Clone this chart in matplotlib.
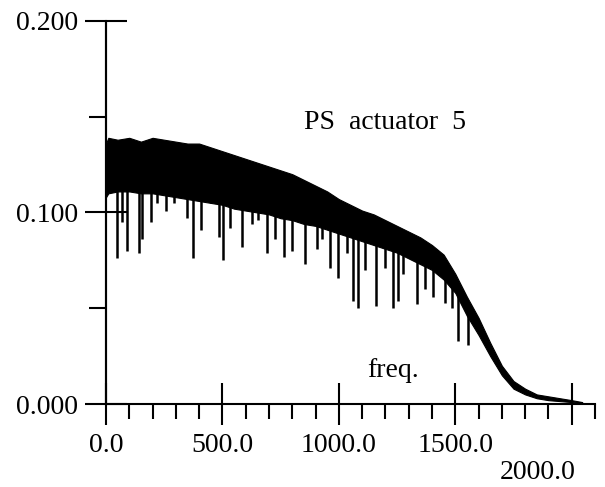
import matplotlib.pyplot as plt
from matplotlib.ticker import MultipleLocator, FixedLocator
import matplotlib.transforms as mtransforms

# frecuencias del borde de la banda densa y sus valores
freq_banda = [0, 10, 50, 100, 150, 200, 250, 300, 350, 400, 450, 500, 550, 600,
              650, 700, 750, 800, 850, 900, 950, 1000, 1050, 1100, 1150, 1200,
              1250, 1300, 1350, 1400, 1450, 1500, 1550, 1600, 1650, 1700, 1750,
              1800, 1850, 1900, 1950, 2000, 2045]
banda_sup = [0.136, 0.139, 0.138, 0.139, 0.137, 0.139, 0.138, 0.137, 0.136,
             0.136, 0.134, 0.132, 0.130, 0.128, 0.126, 0.124, 0.122, 0.120,
             0.117, 0.114, 0.111, 0.107, 0.104, 0.101, 0.099, 0.096, 0.093,
             0.090, 0.087, 0.083, 0.078, 0.068, 0.056, 0.045, 0.032, 0.020,
             0.012, 0.008, 0.005, 0.004, 0.003, 0.002, 0.001]
banda_inf = [0.108, 0.110, 0.111, 0.111, 0.110, 0.110, 0.109, 0.108, 0.107,
             0.106, 0.105, 0.104, 0.102, 0.101, 0.100, 0.099, 0.097, 0.096,
             0.094, 0.093, 0.091, 0.089, 0.087, 0.085, 0.083, 0.081, 0.079,
             0.076, 0.073, 0.070, 0.065, 0.058, 0.046, 0.036, 0.025, 0.015,
             0.008, 0.005, 0.003, 0.002, 0.0015, 0.001, 0.0005]

# picos hacia abajo (frecuencia, valor minimo)
picos_freq = [47, 69, 90, 142, 155, 193, 219, 258, 292, 348, 373, 408, 451,
              485, 502, 532, 584, 627, 652, 691, 725, 764, 798, 854, 906, 927,
              961, 996, 1034, 1060, 1082, 1112, 1159, 1197, 1232, 1253, 1275,
              1335, 1369, 1403, 1455, 1485, 1511, 1554]
picos_min = [0.076, 0.095, 0.080, 0.079, 0.086, 0.095, 0.105, 0.101, 0.105,
             0.097, 0.076, 0.091, 0.105, 0.087, 0.075, 0.092, 0.082, 0.094,
             0.096, 0.079, 0.086, 0.077, 0.080, 0.073, 0.081, 0.086, 0.071,
             0.066, 0.079, 0.054, 0.050, 0.070, 0.051, 0.071, 0.050, 0.054,
             0.068, 0.052, 0.060, 0.056, 0.053, 0.050, 0.033, 0.031]

pico_dc = 0.200

fuente = "Liberation Serif"

fig = plt.figure(figsize=(6.05, 4.87), dpi=100)
ax = fig.add_axes([106 / 605, 83 / 487, 489 / 605, 383 / 487])

ax.fill_between(freq_banda, banda_inf, banda_sup, color="black", linewidth=0.8)
# cada pico arranca dentro de la banda
arriba = [banda_inf[min(range(len(freq_banda)), key=lambda i: abs(freq_banda[i] - f))] + 0.004
          for f in picos_freq]
ax.vlines(picos_freq, picos_min, arriba, color="black", linewidth=1.8)
ax.vlines([0], 0, pico_dc, color="black", linewidth=1.5, clip_on=False)

ax.set_xlim(0, 2100)
ax.set_ylim(0, 0.2)

for lado in ("top", "right"):
    ax.spines[lado].set_visible(False)
for lado in ("left", "bottom"):
    ax.spines[lado].set_linewidth(1.5)

ax.xaxis.set_major_locator(FixedLocator([0, 500, 1000, 1500, 2000]))
ax.xaxis.set_minor_locator(MultipleLocator(100))
ax.yaxis.set_major_locator(FixedLocator([0.0, 0.1, 0.2]))
ax.yaxis.set_minor_locator(FixedLocator([0.05, 0.15]))

ax.set_xticklabels(["0.0", "500.0", "1000.0", "1500.0", ""])
ax.set_yticklabels(["0.000", "0.100", "0.200"])

ax.tick_params(axis="both", which="major", direction="inout", length=30,
               width=1.5, labelsize=20)
ax.tick_params(axis="y", which="major", pad=5)
ax.tick_params(axis="x", which="major", pad=6)
ax.tick_params(axis="x", which="minor", direction="out", length=11, width=1.5)
ax.tick_params(axis="y", which="minor", direction="out", length=12, width=1.5)
for t in ax.get_xticklabels() + ax.get_yticklabels():
    t.set_fontfamily(fuente)

trans = mtransforms.blended_transform_factory(ax.transData, ax.transAxes)
ax.text(2015, -0.178, "2000.0", transform=trans, ha="right", va="center",
        fontsize=20, fontfamily=fuente)

ax.text(1197, 0.147, "PS  actuator  5", ha="center", va="center",
        fontsize=20, fontfamily=fuente)
ax.text(1232, 0.0175, "freq.", ha="center", va="center",
        fontsize=20, fontfamily=fuente)

plt.savefig("out.png", dpi=100)
